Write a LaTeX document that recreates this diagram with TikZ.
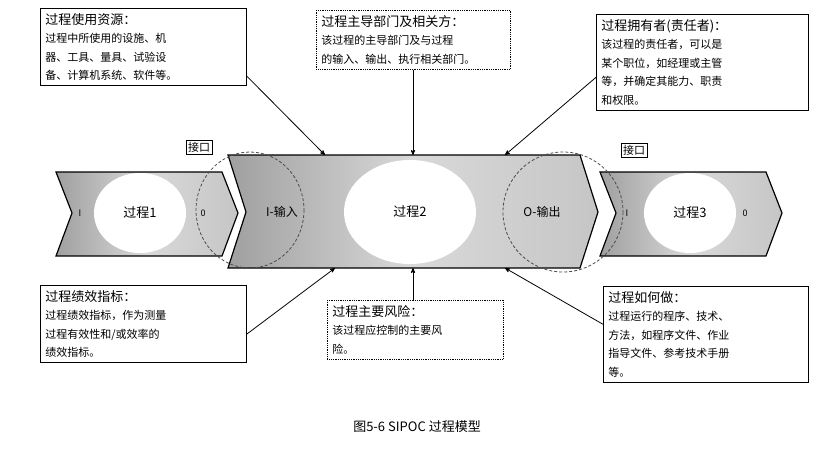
\documentclass[tikz,border=0pt]{standalone}
\usepackage{fontspec}
\setmainfont{Noto Sans CJK SC}
\usetikzlibrary{arrows,shapes.geometric}
\begin{document}
\begin{tikzpicture}[x=1pt,y=-1pt,>=stealth',
  info box/.style={draw,thick,align=left,anchor=north west,inner sep=5pt,font=\fontsize{11}{18.5}\selectfont},
  dot box/.style={info box,densely dotted},
  chev/.style={draw,very thick,left color=gray!75,right color=gray!45,middle color=gray!30},
  proc node/.style={ellipse,fill=white,font=\fontsize{13}{15}\selectfont},
  port node/.style={draw,thin,fill=white,font=\fontsize{11}{13}\selectfont,inner sep=2pt},
  arr/.style={->,thick,shorten >=0pt}]
  \useasboundingbox (0,0) rectangle (834,464);

  % chevrons
  \draw[chev] (56,172) -- (222,172) -- (238,213) -- (222,256) -- (56,256) -- (72,213) -- cycle;
  \draw[chev] (600,172) -- (766,172) -- (782,213) -- (766,256) -- (600,256) -- (616,213) -- cycle;
  \draw[chev] (228,155) -- (580,155) -- (598,212) -- (580,268) -- (228,268) -- (246,212) -- cycle;

  % processes
  \node[proc node,minimum width=92,minimum height=80] (p1) at (140,213) {过程1};
  \node[proc node,minimum width=132,minimum height=104] (p2) at (410,212) {过程2};
  \node[proc node,minimum width=92,minimum height=80] (p3) at (690,213) {过程3};
  \node[font=\small] (i1) at (80,213) {I};
  \node[font=\small] (o1) at (203,213) {0};
  \node[font=\small] (i3) at (627,213) {I};
  \node[font=\small] (o3) at (745,213) {0};
  \node[font=\fontsize{12}{14}\selectfont] (in) at (282,212) {I-输入};
  \node[font=\fontsize{12}{14}\selectfont] (out) at (542,212) {O-输出};

  % interfaces
  \draw[densely dashed,gray!60!black,thick] (250,210) ellipse (54 and 58);
  \draw[densely dashed,gray!60!black,thick] (563,212) ellipse (60 and 60);
  \node[port node] (if1) at (199,147) {接口};
  \node[port node] (if2) at (634,150) {接口};

  % boxes
  \node[info box,text width=196] (res) at (40,8) {{\fontsize{13}{20}\selectfont 过程使用资源：}\\过程中所使用的设施、机\\器、工具、量具、试验设\\备、计算机系统、软件等。};
  \node[dot box,text width=184] (dept) at (316,10) {{\fontsize{13}{20}\selectfont 过程主导部门及相关方：}\\该过程的主导部门及与过程\\的输入、输出、执行相关部门。\\[6pt]};
  \node[info box,text width=202] (own) at (596,14) {{\fontsize{13}{20}\selectfont 过程拥有者(责任者)：}\\该过程的责任者，可以是\\某个职位，如经理或主管\\等，并确定其能力、职责\\和权限。};
  \node[info box,text width=196] (kpi) at (40,285) {{\fontsize{13}{20}\selectfont 过程绩效指标：}\\过程绩效指标，作为测量\\过程有效性和/或效率的\\绩效指标。};
  \node[dot box,text width=166] (risk) at (327,300) {{\fontsize{13}{20}\selectfont 过程主要风险：}\\该过程应控制的主要风\\险。\\[8pt]};
  \node[info box,text width=195] (how) at (603,286) {{\fontsize{13}{20}\selectfont 过程如何做：}\\过程运行的程序、技术、\\方法，如程序文件、作业\\指导文件、参考技术手册\\等。};

  % connectors
  \coordinate (t1) at (325,155);
  \coordinate (t2) at (413,155);
  \coordinate (t3) at (505,155);
  \coordinate (b1) at (335,268);
  \coordinate (b2) at (413,268);
  \coordinate (b3) at (505,268);
  \draw[arr] (res.south east) ++(0,-10) -- (t1);
  \draw[arr] (dept.south -| t2) -- (t2);
  \draw[arr] (own.west) ++(0,15) -- (t3);
  \draw[arr] (kpi.east) ++(0,10) -- (b1);
  \draw[arr] (risk.north -| b2) -- (b2);
  \draw[arr] (how.west) ++(0,-10) -- (b3);

  \node[font=\fontsize{13}{15}\selectfont] (cap) at (417,427) {图5-6 SIPOC 过程模型};
\end{tikzpicture}
\end{document}
